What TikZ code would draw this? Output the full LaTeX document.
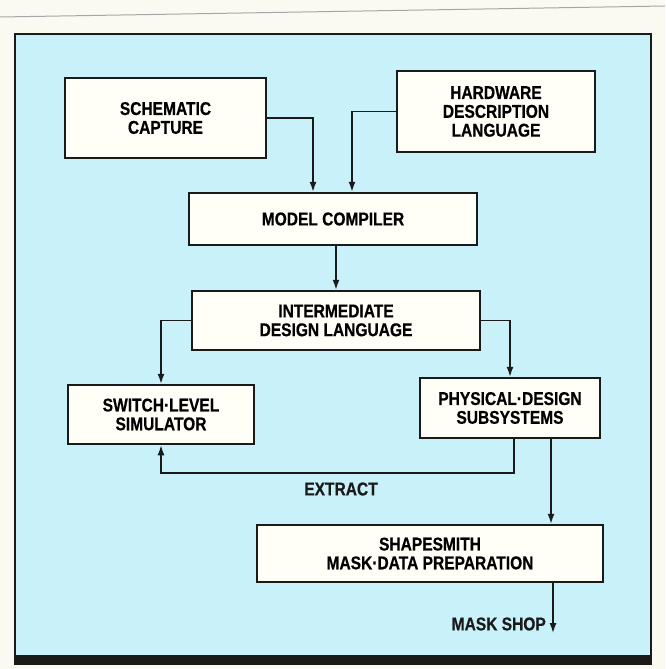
\documentclass[tikz,border=0pt]{standalone}
\usepackage{fontspec}
\setmainfont{Liberation Sans}[FakeStretch=0.84, BoldFeatures={FakeBold=0.5}]
\usetikzlibrary{arrows.meta}
\definecolor{paper}{HTML}{FAFAF2}
\definecolor{panel}{HTML}{C9F1FA}
\definecolor{boxfill}{HTML}{FFFEF7}
\definecolor{ink}{HTML}{1A1A1A}
\newcommand{\lblfont}{\fontsize{18.5}{18.8}\selectfont\bfseries}
\tikzset{
  box/.style={draw=ink, line width=2.5pt, fill=boxfill, align=center, inner sep=0pt, font=\lblfont},
  arr/.style={draw=ink, line width=1.4pt, -{Latex[length=10pt,width=7pt]}},
  lbl/.style={font=\lblfont, text=ink, inner sep=0pt}
}
\begin{document}
\begin{tikzpicture}[x=1pt,y=-1pt]
\useasboundingbox (0,0) rectangle (665,669);
\fill[paper] (0,0) rectangle (665,669);
\draw[gray!70, line width=1pt] (0,17) -- (665,6);
% panel
\fill[panel] (15,34) rectangle (651,658);
\draw[ink, line width=2pt] (15,658) -- (15,34) -- (651,34) -- (651,658);
\fill[ink] (14,655) rectangle (652,665);

% boxes
\node[box, minimum width=201pt, minimum height=80pt] (sch) at (165.5,118) {SCHEMATIC\\CAPTURE};
\node[box, minimum width=198pt, minimum height=81pt] (hdl) at (496,111.5) {HARDWARE\\DESCRIPTION\\LANGUAGE};
\node[box, minimum width=288pt, minimum height=52pt] (mc) at (333,219) {MODEL COMPILER};
\node[box, minimum width=288pt, minimum height=59pt] (idl) at (336,320.5) {INTERMEDIATE\\DESIGN LANGUAGE};
\node[box, minimum width=186pt, minimum height=59pt] (sls) at (161,414.5) {SWITCH·LEVEL\\SIMULATOR};
\node[box, minimum width=180pt, minimum height=60pt] (pds) at (510,408) {PHYSICAL·DESIGN\\SUBSYSTEMS};
\node[box, minimum width=346pt, minimum height=57pt] (ssm) at (430,553.5) {SHAPESMITH\\MASK·DATA PREPARATION};

% connectors
\draw[arr] (sch.east) -| ([xshift=-20pt]mc.north);
\draw[arr] (hdl.west) -| ([xshift=19pt]mc.north);
\draw[arr] (idl.north |- mc.south) -- (idl.north);
\draw[arr] (idl.west) -| (sls.north);
\draw[arr] (idl.east) -| (pds.north);
\coordinate (ex) at (514,473);
\draw[arr] (ex |- pds.south) -- (ex) -| (sls.south);
\node[lbl] (extract) at (341,489) {EXTRACT};
\coordinate (toss) at (551,500);
\draw[arr] (toss |- pds.south) -- (toss |- ssm.north);
\coordinate (shop) at (553,633);
\draw[arr] (shop |- ssm.south) -- (shop);
\node[lbl, anchor=east] (shoplbl) at (546,624) {MASK SHOP};
\end{tikzpicture}
\end{document}
